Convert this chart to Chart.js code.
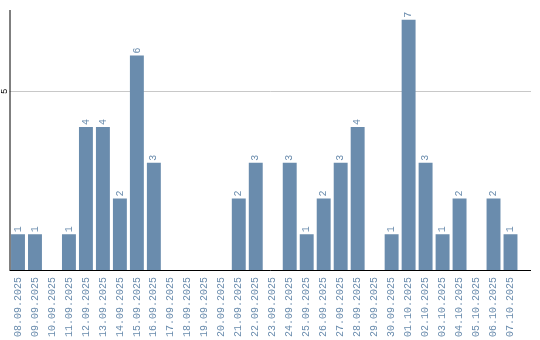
<!DOCTYPE html>
<html lang="de">
<head>
<meta charset="UTF-8">
<title>Einträge pro Tag</title>
<script src="https://cdn.jsdelivr.net/npm/chart.js"></script>
<style>
    html, body { margin: 0; padding: 0; background: #fff; }
    #wrap { width: 540px; height: 340px; }
</style>
</head>
<body>
<div id="wrap"><canvas id="grafico"></canvas></div>
<script>
    const datas = [
        '08.09.2025', '09.09.2025', '10.09.2025', '11.09.2025', '12.09.2025',
        '13.09.2025', '14.09.2025', '15.09.2025', '16.09.2025', '17.09.2025',
        '18.09.2025', '19.09.2025', '20.09.2025', '21.09.2025', '22.09.2025',
        '23.09.2025', '24.09.2025', '25.09.2025', '26.09.2025', '27.09.2025',
        '28.09.2025', '29.09.2025', '30.09.2025', '01.10.2025', '02.10.2025',
        '03.10.2025', '04.10.2025', '05.10.2025', '06.10.2025', '07.10.2025'
    ];
    const valores = [1, 1, 0, 1, 4, 4, 2, 6, 3, 0, 0, 0, 0, 2, 3, 0, 3, 1, 2, 3, 4, 0, 1, 7, 3, 1, 2, 0, 2, 1];
    const ticksY = [5];

    const azul = '#6a8cad';
    const fonte = '"Liberation Mono", monospace';

    // eixos, linha de grade e rotulos em cima das barras
    const extras = {
        id: 'extras',
        beforeDatasetsDraw(chart) {
            const ctx = chart.ctx;
            const area = chart.chartArea;
            const y = chart.scales.y;
            const fim = 531;
            ctx.save();
            ctx.lineWidth = 1;
            ctx.strokeStyle = '#c8c8c8';
            ticksY.forEach(t => {
                const py = Math.round(y.getPixelForValue(t)) + 0.5;
                ctx.beginPath();
                ctx.moveTo(area.left, py);
                ctx.lineTo(fim, py);
                ctx.stroke();
            });
            ctx.fillStyle = '#000';
            ctx.font = '9px ' + fonte;
            ctx.textAlign = 'center';
            ctx.textBaseline = 'middle';
            ticksY.forEach(t => {
                ctx.save();
                ctx.translate(5, y.getPixelForValue(t));
                ctx.rotate(-Math.PI / 2);
                ctx.fillText(String(t), 0, 0);
                ctx.restore();
            });
            ctx.restore();
        },
        afterDatasetsDraw(chart) {
            const ctx = chart.ctx;
            const area = chart.chartArea;
            const fim = 531;
            ctx.save();
            ctx.strokeStyle = '#000';
            ctx.lineWidth = 1;
            ctx.beginPath();
            ctx.moveTo(area.left + 0.5, area.top);
            ctx.lineTo(area.left + 0.5, area.bottom);
            ctx.stroke();
            ctx.beginPath();
            ctx.moveTo(area.left, Math.round(area.bottom) + 0.5);
            ctx.lineTo(fim, Math.round(area.bottom) + 0.5);
            ctx.stroke();

            ctx.fillStyle = azul;
            ctx.font = '10px ' + fonte;
            ctx.textAlign = 'left';
            ctx.textBaseline = 'middle';
            const meta = chart.getDatasetMeta(0);
            meta.data.forEach((bar, i) => {
                if (!valores[i]) return;
                ctx.save();
                ctx.translate(bar.x, bar.y - 2);
                ctx.rotate(-Math.PI / 2);
                ctx.fillText(String(valores[i]), 0, 0);
                ctx.restore();
            });
            ctx.restore();
        }
    };

    new Chart(document.getElementById('grafico'), {
        type: 'bar',
        data: {
            labels: datas,
            datasets: [{
                data: valores,
                backgroundColor: azul,
                borderWidth: 0,
                barPercentage: 0.82,
                categoryPercentage: 1
            }]
        },
        options: {
            responsive: true,
            maintainAspectRatio: false,
            animation: false,
            layout: { padding: { top: 10, right: 21, left: 0, bottom: 0 } },
            plugins: {
                legend: { display: false },
                tooltip: { enabled: false }
            },
            scales: {
                x: {
                    grid: { display: false },
                    border: { display: false },
                    ticks: {
                        color: azul,
                        font: { family: fonte, size: 10 },
                        minRotation: 90,
                        maxRotation: 90,
                        autoSkip: false,
                        padding: -1
                    },
                    afterFit: s => { s.height = 70; }
                },
                y: {
                    min: 0,
                    max: 7.27,
                    grid: { display: false },
                    border: { display: false },
                    ticks: { display: false },
                    afterFit: s => { s.width = 9.5; }
                }
            }
        },
        plugins: [extras]
    });
</script>
</body>
</html>
